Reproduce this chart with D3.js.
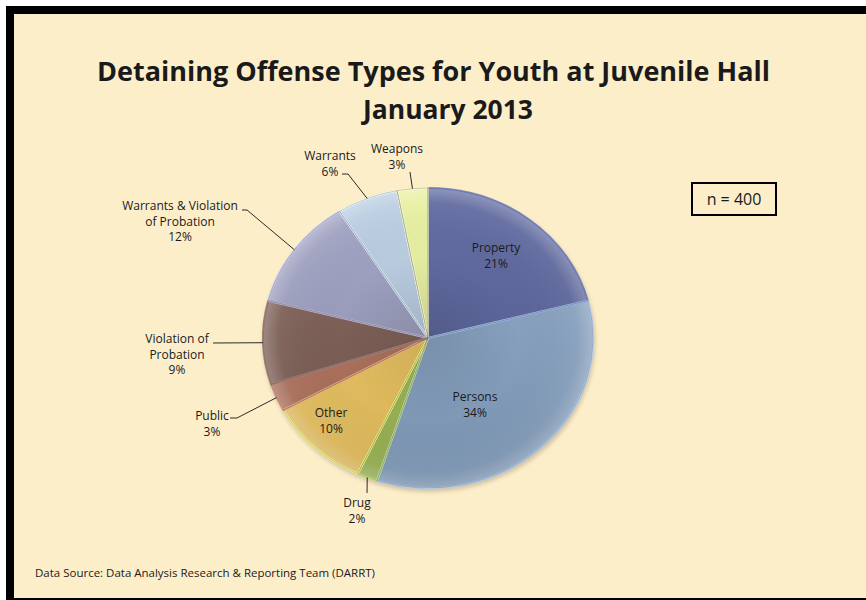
<!DOCTYPE html>
<html>
<head>
<meta charset="utf-8">
<script src="https://cdn.jsdelivr.net/npm/d3@7"></script>
<style>
  html, body { margin: 0; padding: 0; background: #ffffff; }
  svg { display: block; }
  text { font-family: "Open Sans", "Liberation Sans", sans-serif; fill: #1a1a1a; }
</style>
</head>
<body>
<svg id="chart" width="866" height="600"></svg>
<script>
// Offense categories, clockwise from 12 o'clock
const categories = ["Property", "Persons", "Drug", "Other", "Public",
  "Violation of Probation", "Warrants & Violation of Probation", "Warrants", "Weapons"];
// Share of youth per category (percent of n = 400)
const shares = [21, 34, 2, 10, 3, 9, 12, 6, 3];
const sliceColors = ["#56619a", "#86a2c2", "#9fba55", "#eec55f", "#b0705a",
  "#7b5c52", "#9b9dc0", "#b7cce1", "#e7f09c"];
// Label text lines per category (the percent line is added from the data)
const labelLines = [["Property"], ["Persons"], ["Drug"], ["Other"], ["Public"],
  ["Violation of", "Probation"], ["Warrants & Violation", "of Probation"], ["Warrants"], ["Weapons"]];
const totalCount = 400;

const svg = d3.select("#chart");
const W = 866, H = 600;

// frame: white margin, heavy black border top/left, thin line at bottom
svg.append("rect").attr("x", 0).attr("y", 0).attr("width", W).attr("height", H).attr("fill", "#ffffff");
svg.append("rect").attr("x", 6).attr("y", 6).attr("width", W - 6).attr("height", H - 6).attr("fill", "#000000");
svg.append("rect").attr("x", 14).attr("y", 14).attr("width", W - 14).attr("height", H - 16).attr("fill", "#fdeeca");

// title
const title = svg.append("g").attr("font-weight", "bold").attr("text-anchor", "middle");
title.append("text").attr("x", 433.5).attr("y", 81).attr("font-size", 26.5)
  .attr("textLength", 673).attr("lengthAdjust", "spacingAndGlyphs")
  .text("Detaining Offense Types for Youth at Juvenile Hall");
title.append("text").attr("x", 448).attr("y", 119).attr("font-size", 26.5)
  .attr("textLength", 170).attr("lengthAdjust", "spacingAndGlyphs")
  .text("January 2013");

// pie geometry (drawn slightly wider than tall)
const cx = 428, cy = 338, R = 150, sx = 1.1;
const pie = d3.pie().sort(null).value(d => d.value);
const arcs = pie(categories.map((c, i) => ({ name: c, value: shares[i], color: sliceColors[i], lines: labelLines[i] })));
const arc = d3.arc().innerRadius(0).outerRadius(R);

const defs = svg.append("defs");
const shade = defs.append("radialGradient").attr("id", "shade")
  .attr("gradientUnits", "userSpaceOnUse").attr("cx", 0).attr("cy", 0).attr("r", R);
shade.append("stop").attr("offset", "0%").attr("stop-color", "#000").attr("stop-opacity", 0.10);
shade.append("stop").attr("offset", "55%").attr("stop-color", "#000").attr("stop-opacity", 0.0);
shade.append("stop").attr("offset", "90%").attr("stop-color", "#fff").attr("stop-opacity", 0.05);
shade.append("stop").attr("offset", "100%").attr("stop-color", "#fff").attr("stop-opacity", 0.28);
const tilt = defs.append("linearGradient").attr("id", "tilt")
  .attr("gradientUnits", "userSpaceOnUse").attr("x1", 0).attr("y1", -R).attr("x2", 0).attr("y2", R);
tilt.append("stop").attr("offset", "0%").attr("stop-color", "#fff").attr("stop-opacity", 0.08);
tilt.append("stop").attr("offset", "100%").attr("stop-color", "#000").attr("stop-opacity", 0.10);
const blur = defs.append("filter").attr("id", "soft").attr("x", "-10%").attr("y", "-10%").attr("width", "120%").attr("height", "120%");
blur.append("feGaussianBlur").attr("stdDeviation", 2);

const pg = svg.append("g").attr("transform", `translate(${cx},${cy}) scale(${sx},1)`);
// faint shadow under the pie
pg.append("ellipse").attr("cx", 1).attr("cy", 3).attr("rx", R + 1).attr("ry", R + 1)
  .attr("fill", "#000").attr("opacity", 0.18).attr("filter", "url(#soft)");

pg.selectAll("path.slice").data(arcs).join("path").attr("class", "slice")
  .attr("d", arc).attr("fill", d => d.data.color);
pg.selectAll("path.shade").data(arcs).join("path").attr("class", "shade")
  .attr("d", arc).attr("fill", "url(#shade)");
pg.selectAll("path.tilt").data(arcs).join("path").attr("class", "tilt")
  .attr("d", arc).attr("fill", "url(#tilt)");
// bevel highlight / separator lines
pg.selectAll("path.edge").data(arcs).join("path").attr("class", "edge")
  .attr("d", arc).attr("fill", "none")
  .attr("stroke", d => d3.color(d.data.color).brighter(0.7))
  .attr("stroke-opacity", 0.85).attr("stroke-width", 2).attr("stroke-linejoin", "round")
  .attr("vector-effect", "non-scaling-stroke");
pg.selectAll("path.sep").data(arcs).join("path").attr("class", "sep")
  .attr("d", arc).attr("fill", "none").attr("stroke", "#6e6e78")
  .attr("stroke-opacity", 0.45).attr("stroke-width", 0.8)
  .attr("vector-effect", "non-scaling-stroke");

// point on the rim at a slice's mid angle, in page coordinates
function rimPoint(d) {
  const a = (d.startAngle + d.endAngle) / 2;
  return [cx + sx * R * Math.sin(a), cy - R * Math.cos(a)];
}

// label placement: text centre and leader path (elbow points ending near the text)
const labelLayout = {
  "Property": { x: 496, y: 248 },
  "Persons": { x: 475, y: 397 },
  "Other": { x: 331, y: 413 },
  "Drug": { x: 357, y: 503, leader: [[367, 493]] },
  "Public": { x: 212, y: 416, leader: [[237, 418], [230, 418]] },
  "Violation of Probation": { x: 177, y: 339, leader: [[213, 343]] },
  "Warrants & Violation of Probation": { x: 180, y: 206, leader: [[247, 210], [242, 210]] },
  "Warrants": { x: 330, y: 156, leader: [[348, 174], [342, 174]] },
  "Weapons": { x: 397, y: 149, leader: [[410, 172]] }
};

const line = d3.line();
const lg = svg.append("g");
arcs.forEach(d => {
  const L = labelLayout[d.data.name];
  if (L.leader) {
    lg.append("path").attr("d", line([rimPoint(d), ...L.leader]))
      .attr("fill", "none").attr("stroke", "#2a2a2a").attr("stroke-width", 1);
  }
  const lines = [...d.data.lines, d.data.value + "%"];
  const t = lg.append("text").attr("text-anchor", "middle").attr("font-size", 12);
  lines.forEach((s, i) => {
    t.append("tspan").attr("x", L.x).attr("y", L.y + i * 15.7 + 4).text(s);
  });
});

// sample size box
const nb = svg.append("g");
nb.append("rect").attr("x", 692).attr("y", 183).attr("width", 84).attr("height", 32)
  .attr("fill", "#fdeeca").attr("stroke", "#000").attr("stroke-width", 2);
nb.append("text").attr("x", 734).attr("y", 205).attr("text-anchor", "middle")
  .attr("font-size", 16).text("n = " + totalCount);

// source note
svg.append("text").attr("x", 35).attr("y", 577).attr("font-size", 10)
  .attr("textLength", 340).attr("lengthAdjust", "spacingAndGlyphs")
  .text("Data Source: Data Analysis Research & Reporting Team (DARRT)");
</script>
</body>
</html>
